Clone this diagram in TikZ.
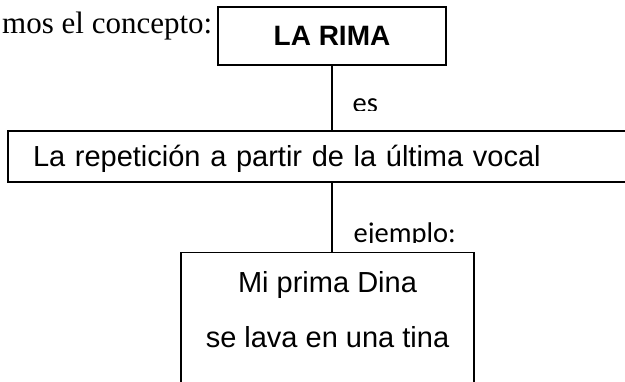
\documentclass[tikz,border=0pt]{standalone}
\usepackage{fontspec}
\setmainfont{Liberation Sans}
\newfontfamily\timesfont{Liberation Serif}
\newfontfamily\calibrifont{Carlito}

\begin{document}
\begin{tikzpicture}
                    [x=1pt, y=-1pt, line width=1.4pt]
                    \tikzset{box/.style = {draw, rectangle, inner sep=0pt},
                             lbl/.style = {font=\calibrifont\fontsize{28.5}{30}\selectfont, inner sep=0pt, anchor=base west}}
                    \clip (0,0) rectangle (625,381);
                    \node[font=\timesfont\fontsize{31}{33}\selectfont, inner sep=0pt, anchor=base east] (intro) at (213,33) {mos el concepto:};
                    \node[box, minimum width=228pt, minimum height=58pt, font=\bfseries\fontsize{28}{30}\selectfont] (rima) at (332,36) {LA RIMA};
                    \node[box, minimum height=51pt, text width=598pt, text depth=1.6pt, inner xsep=25pt, align=left, font=\fontsize{29}{31}\selectfont] (def) at (332,156.5) {La repetición a partir de la última vocal};
                    \node[box, anchor=north, minimum width=293pt, minimum height=160pt] (ejem) at (327.5,252) {};
                    \node[align=center, anchor=north, inner sep=0pt, font=\fontsize{29}{55}\selectfont] (verso) at (327.5,271.2) {Mi prima Dina\\se lava en una tina};

                    \foreach \from/\to in {rima/def,def/ejem}
                        \draw (\from.south) -- (\from.south |- \to.north);

                    \begin{scope}
                        \clip (340,90) rectangle (400,110);
                        \node[lbl] (es) at (352,112) {es};
                    \end{scope}
                    \begin{scope}
                        \clip (340,215) rectangle (470,242);
                        \node[lbl] (ej) at (353,242) {ejemplo:};
                    \end{scope}
                \end{tikzpicture}
\end{document}
